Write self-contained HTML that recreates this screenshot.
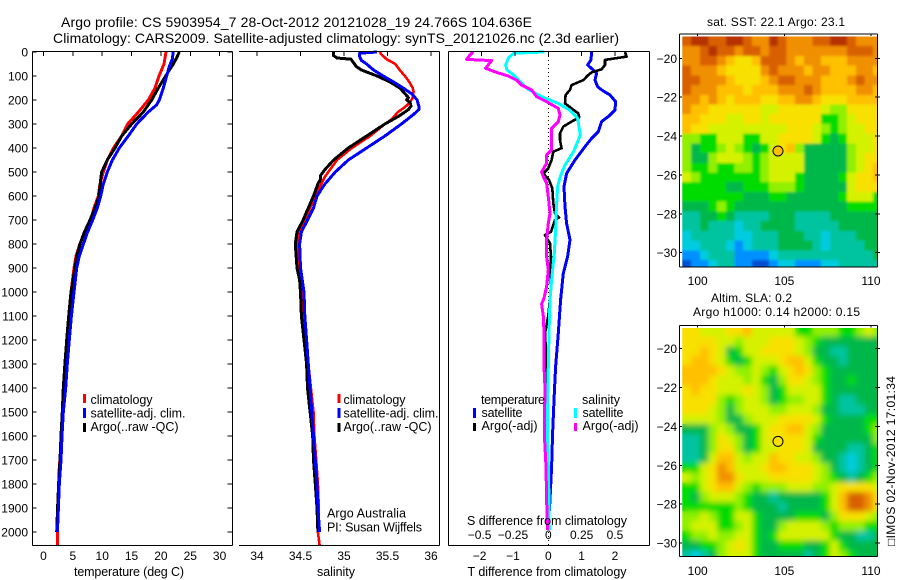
<!DOCTYPE html>
<html lang="en">
<head>
<meta charset="utf-8">
<title>Argo profile CS 5903954_7</title>
<style>
html,body{margin:0;padding:0;background:#fff;width:900px;height:580px;overflow:hidden}
svg{display:block}
text{font-family:"Liberation Sans",sans-serif;font-size:12px;fill:#000}
.ttl{font-size:14px}
.lab{font-size:12.5px}
</style>
</head>
<body>
<svg id="chart" xmlns="http://www.w3.org/2000/svg" width="900" height="580" viewBox="0 0 900 580">
  <defs>
    <filter id="blur-sst" x="-10%" y="-10%" width="120%" height="120%"><feGaussianBlur stdDeviation="1.3"/></filter>
    <filter id="blur-sla" x="-10%" y="-10%" width="120%" height="120%"><feGaussianBlur stdDeviation="3"/></filter>
  </defs>
  <rect x="0" y="0" width="900" height="580" fill="#fff"/>

  <text class="ttl" x="61" y="27" textLength="471" lengthAdjust="spacing">Argo profile: CS 5903954_7 28-Oct-2012 20121028_19 24.766S 104.636E</text>
  <text class="ttl" x="53" y="43" textLength="566" lengthAdjust="spacing">Climatology: CARS2009. Satellite-adjusted climatology: synTS_20121026.nc (2.3d earlier)</text>

  <g id="panel-temp"></g>
  <g id="panel-sal"></g>
  <g id="panel-diff"></g>
  <g id="map-sst"></g>
  <g id="map-sla"></g>

  <g>
    <rect x="83" y="394" width="3" height="9" fill="#f00"/>
    <text class="lab" x="90.5" y="404" textLength="62">climatology</text>
    <rect x="83" y="408" width="3" height="10" fill="#00f"/>
    <text class="lab" x="90.5" y="417.5" textLength="95">satellite-adj. clim.</text>
    <rect x="83" y="423" width="3" height="9" fill="#000"/>
    <text class="lab" x="90.5" y="431" textLength="88">Argo(..raw -QC)</text>
  </g>
  <g>
    <rect x="337.5" y="394" width="3" height="9" fill="#f00"/>
    <text class="lab" x="343.5" y="404" textLength="62">climatology</text>
    <rect x="337.5" y="408" width="3" height="10" fill="#00f"/>
    <text class="lab" x="343.5" y="417.5" textLength="95">satellite-adj. clim.</text>
    <rect x="337.5" y="423" width="3" height="9" fill="#000"/>
    <text class="lab" x="343.5" y="431" textLength="88">Argo(..raw -QC)</text>
    <text class="lab" x="327" y="517.5" textLength="79">Argo Australia</text>
    <text class="lab" x="327" y="531.5" textLength="95">PI: Susan Wijffels</text>
  </g>
  <g>
    <text class="lab" x="481" y="404" textLength="64">temperature</text>
    <rect x="473" y="408" width="3" height="10" fill="#00f"/>
    <text class="lab" x="481.5" y="417" textLength="41">satellite</text>
    <rect x="473" y="423" width="3" height="8" fill="#000"/>
    <text class="lab" x="481.5" y="430" textLength="56">Argo(-adj)</text>
    <text class="lab" x="582" y="404" textLength="38">salinity</text>
    <rect x="574" y="408" width="3" height="10" fill="#0ff"/>
    <text class="lab" x="582.5" y="417" textLength="41">satellite</text>
    <rect x="574" y="423" width="3" height="8" fill="#f0f"/>
    <text class="lab" x="582.5" y="430" textLength="56">Argo(-adj)</text>
  </g>

  <text class="lab" x="129" y="576" text-anchor="middle" textLength="110">temperature (deg C)</text>
  <text class="lab" x="336" y="576" text-anchor="middle" textLength="38">salinity</text>
  <text class="lab" x="547" y="525" text-anchor="middle" textLength="160">S difference from climatology</text>
  <text class="lab" x="547" y="576" text-anchor="middle" textLength="159">T difference from climatology</text>

  <text x="707" y="26" textLength="138">sat. SST: 22.1 Argo: 23.1</text>
  <text x="711" y="302" textLength="81">Altim. SLA: 0.2</text>
  <text x="693" y="316" textLength="167">Argo h1000: 0.14 h2000: 0.15</text>
  <text transform="translate(895 546) rotate(-90)" textLength="170" style="font-family:'Liberation Sans','DejaVu Sans',sans-serif">□IMOS 02-Nov-2012 17:01:34</text>
</svg>

<script>
/* ---------- axis tick data ---------- */
const depthTicks = [0,100,200,300,400,500,600,700,800,900,1000,1100,1200,1300,1400,1500,1600,1700,1800,1900,2000];
const tempTicks = [0,5,10,15,20,25,30];
const salTicks = [34,34.5,35,35.5,36];
const diffTTicks = [-2,-1,0,1,2];
const diffSTicks = [-0.5,-0.25,0,0.25,0.5];
const diffSLabels = ['-0.5','-0.25','0','0.25','0.5'];
const mapLonTicks = [100,105,110];
const mapLatTicks = [-20,-22,-24,-26,-28,-30];

/* ---------- temperature profiles ---------- */
const tempClimDepth = [0,50,100,150,200,250,300,350,400,450,500,550,600,650,700,750,800,850,900,1000,1100,1200,1300,1400,1750,2000,2055];
const tempClimValue = [20.87,20.53,19.68,19.0,17.86,16.16,14.34,13.32,11.9,10.87,10.19,9.63,9.34,8.6,8.04,7.07,6.2,5.54,5.2,4.68,4.3,4.0,3.8,3.66,2.64,2.36,2.36];
const tempSatDepth = [0,30,60,100,150,200,220,250,300,350,400,450,500,550,600,650,700,750,800,850,900,1000,1100,1200,1300,1400,1500,1600,1700,1800,1900,2000];
const tempSatValue = [22.1,21.94,21.43,20.98,20.41,19.73,19.28,17.86,15.87,14.45,12.92,11.73,10.87,10.19,9.74,9.17,8.38,7.52,6.79,6.1,5.65,5.2,4.75,4.4,4.05,3.78,3.38,3.15,2.98,2.7,2.53,2.36];
const tempArgoDepth = [0,25,50,75,100,150,200,250,300,350,400,450,500,520,600,650,700,750,800,850,900,1000,1100,1200,1300,1400,1500,1600,1700,1800,1900,2000];
const tempArgoValue = [23.14,22.68,22.12,21.43,20.81,19.56,18.43,17.0,15.02,13.32,12.18,10.87,9.91,9.8,9.45,8.77,7.92,6.96,6.22,5.65,5.37,4.68,4.3,3.95,3.65,3.38,3.2,2.98,2.81,2.58,2.4,2.25];

/* ---------- salinity profiles ---------- */
const salClimDepth = [0,10,30,50,75,100,125,150,165,190,210,230,250,280,300,350,400,450,500,520,600,700,750,800,900,1000,1100,1200,1300,1400,1500,1600,1700,1800,1900,2000,2055];
const salClimValue = [35.41,35.43,35.49,35.59,35.64,35.70,35.75,35.79,35.80,35.79,35.76,35.70,35.62,35.55,35.47,35.30,35.09,34.92,34.82,34.78,34.67,34.55,34.49,34.47,34.48,34.51,34.53,34.56,34.59,34.62,34.65,34.66,34.68,34.70,34.71,34.70,34.72];
const salSatDepth = [0,5,20,35,50,75,100,125,150,175,200,225,240,260,300,350,400,450,500,550,600,650,700,750,800,900,1000,1100,1200,1300,1400,1500,1600,1700,1800,1900,2000];
const salSatValue = [35.38,35.18,35.18,35.20,35.26,35.34,35.45,35.57,35.68,35.78,35.84,35.86,35.86,35.80,35.66,35.47,35.26,35.05,34.90,34.78,34.69,34.65,34.58,34.51,34.49,34.50,34.54,34.55,34.57,34.59,34.61,34.63,34.65,34.67,34.69,34.70,34.72];
const salArgoDepth = [0,15,25,30,45,60,75,100,115,125,150,165,190,200,210,225,240,265,300,350,400,450,490,515,530,550,600,650,700,750,800,900,950,1000,1100,1200,1300,1400,1500,1600,1700,1800,1900,2000];
const salArgoValue = [34.88,34.88,34.92,35.08,35.11,35.14,35.20,35.38,35.47,35.53,35.64,35.68,35.74,35.72,35.76,35.77,35.74,35.64,35.47,35.26,35.05,34.88,34.78,34.73,34.73,34.70,34.65,34.59,34.53,34.46,34.44,34.46,34.49,34.50,34.51,34.54,34.57,34.58,34.61,34.64,34.65,34.67,34.69,34.70];

/* ---------- difference profiles ---------- */
const diffTSatDepth = [0,33,54,75,89,117,144,158,179,207,242,269,290,332,360,394,450,506,561,644,714,783,853,922,1033,1172,1311,1450,1589,1728,1867,1992];
const diffTSatValue = [1.30,1.28,1.18,1.35,1.45,1.40,1.48,1.60,1.85,2.02,2.00,1.80,1.60,1.50,1.30,1.10,0.80,0.55,0.47,0.50,0.55,0.65,0.58,0.45,0.37,0.30,0.22,0.17,0.13,0.10,0.05,-0.01];
const diffTArgoDepth = [0,19,33,54,72,85,96,117,138,158,179,214,235,256,272,290,311,339,367,401,415,450,485,506,533,568,631,672,689,700,749,763,797,853,908,964,1026,1100,1172,1300,1400,1590,1650,1800,1992];
const diffTArgoValue = [2.30,2.35,1.70,1.70,1.60,1.30,1.20,1.05,0.70,0.65,0.52,0.50,0.70,0.90,0.93,0.70,0.45,0.35,0.35,0.40,0.15,0.10,0,-0.15,0.02,0.12,0.15,0.20,0.32,0.20,0.08,-0.10,0.05,0.08,0.05,0.08,0.05,0,-0.1,-0.05,-0.05,-0.1,-0.07,-0.05,-0.01];
const diffSSatDepth = [0,5,26,54,75,96,124,156,186,214,242,276,346,415,471,519,561,658,742,839,950,1033,1172,1311,1450,1589,1728,1867,1992];
const diffSSatValue = [-0.03,-0.26,-0.30,-0.32,-0.31,-0.26,-0.21,-0.15,-0.05,0.075,0.16,0.22,0.24,0.19,0.125,0.09,0.07,0.06,0.055,0.045,0.025,0.0125,0.005,0,-0.005,-0.0075,0,0.005,0.0075];
const diffSArgoDepth = [0,12,31,36,44,68,85,100,117,138,158,186,207,235,263,290,318,367,408,429,464,499,519,547,603,672,714,783,853,908,978,1026,1050,1100,1172,1311,1400,1589,1728,1867,1992];
const diffSArgoValue = [-0.5625,-0.5875,-0.6125,-0.425,-0.4375,-0.47,-0.3875,-0.30,-0.2375,-0.20,-0.125,-0.0875,-0.0125,0.075,0.0875,0.075,0.025,0.025,0.025,-0.0125,-0.0125,-0.05,-0.0375,-0.0125,0,0.0125,0,-0.0125,-0.0125,0,-0.0125,-0.0325,-0.05,-0.0375,-0.0325,-0.0325,-0.025,-0.03,-0.0175,-0.0125,-0.005];

/* ---------- float position ---------- */
const floatLon = [104.636];
const floatLat = [-24.766];

/* ---------- map cell levels, rows north to south, 0.5 degree cells ---------- */
const sstGrid = [
[11,12,12,11,11,12,12,11,10,10,12,11,10,10,10,11,11,12,12,11,10,10,10],
[10,10,11,12,11,11,10,11,11,10,11,11,10,10,10,10,10,10,10,11,11,11,10],
[10,10,11,11,10,9,8,8,9,11,11,11,10,9,10,10,9,9,9,10,10,10,10],
[11,10,10,10,9,8,8,8,8,10,11,10,10,10,9,10,10,9,9,9,10,10,9],
[11,11,10,10,10,9,8,8,8,9,10,11,11,10,10,10,9,9,9,10,11,10,10],
[11,10,10,10,9,9,9,8,9,9,9,10,10,10,11,10,9,9,9,9,10,10,9],
[10,10,9,10,9,8,9,9,9,8,8,9,9,10,10,9,8,8,8,9,9,9,9],
[10,9,9,8,8,8,8,8,8,7,7,8,8,8,8,8,7,6,6,8,8,8,8],
[9,9,8,8,8,7,7,8,8,7,8,8,8,8,8,8,5,5,6,7,8,8,8],
[9,8,8,7,7,7,7,7,7,7,7,7,8,8,8,7,6,5,6,7,7,8,8],
[6,6,5,5,7,7,7,5,5,7,7,8,8,8,8,7,5,4,5,7,7,7,8],
[6,4,5,5,6,7,6,5,4,5,7,8,9,6,4,4,4,4,4,6,7,7,8],
[6,4,4,6,7,7,7,6,5,6,7,7,7,7,4,4,4,4,4,6,7,8,8],
[6,5,5,6,5,5,6,6,5,6,7,7,7,7,4,4,4,4,4,6,7,8,9],
[7,6,5,5,5,5,5,5,5,6,7,7,7,5,4,4,4,4,5,7,8,8,9],
[5,5,5,5,5,4,4,5,5,5,6,6,6,5,4,4,4,4,4,7,8,8,8],
[5,5,5,5,5,5,5,4,4,4,5,5,4,4,4,4,4,4,5,7,7,7,5],
[4,4,4,5,6,5,4,4,4,4,4,4,4,4,4,4,4,4,4,5,5,5,5],
[3,3,4,4,5,4,3,3,3,3,4,4,4,3,3,3,3,4,4,4,4,4,4],
[3,3,4,3,3,3,2,3,3,4,4,4,4,3,3,3,3,3,4,4,4,4,4],
[2,3,3,3,3,3,2,2,3,3,3,4,4,4,3,3,2,3,3,3,4,4,4],
[2,2,3,3,3,2,1,2,3,3,3,4,4,4,4,3,2,3,3,3,3,4,4],
[1,1,2,3,3,3,1,1,1,1,2,3,3,3,3,3,3,3,3,3,3,3,4],
[0,1,1,2,3,3,1,1,0,0,1,2,2,1,1,1,2,2,3,3,3,3,3]
];
const slaGrid = [
[8,8,7,7,7,8,8,9,7,7,7,7,7,5,5,6,6,6,5,5,6,7,6],
[8,8,8,8,7,7,6,7,7,7,8,8,8,7,6,5,4,4,4,4,4,4,4],
[8,8,9,8,7,4,5,7,7,8,8,8,8,7,6,4,4,3,3,4,4,4,4],
[8,9,9,8,7,5,4,5,7,7,7,8,9,9,7,5,4,4,3,4,4,4,4],
[9,9,9,9,8,7,6,6,7,6,5,7,8,9,8,6,5,4,4,4,4,4,4],
[9,9,9,8,7,7,7,6,7,5,4,6,8,8,7,6,5,4,4,5,4,4,4],
[8,9,8,8,7,7,7,8,7,6,4,5,7,7,7,7,5,4,4,4,4,4,4],
[8,8,8,8,6,5,6,7,7,6,4,5,6,6,7,7,5,4,3,3,4,4,4],
[8,8,8,7,6,4,6,7,7,7,6,6,7,7,7,6,4,4,3,3,3,4,4],
[7,7,7,7,6,4,4,6,7,7,7,8,8,8,8,7,5,4,4,4,4,5,5],
[4,4,4,6,7,6,4,4,5,7,8,8,9,9,7,6,4,4,4,4,4,5,6],
[3,3,4,6,8,7,6,4,5,7,8,8,8,8,7,5,4,4,4,4,4,4,6],
[3,3,4,6,8,8,6,4,5,7,7,8,8,8,7,4,4,4,4,3,3,4,5],
[3,3,4,7,9,9,7,6,7,7,9,8,8,7,7,6,4,4,3,2,3,4,5],
[5,5,7,8,10,9,7,7,7,8,9,9,8,8,8,7,6,4,3,2,3,4,5],
[7,6,7,8,10,10,8,7,7,7,8,8,8,8,8,7,6,5,4,3,4,5,6],
[5,5,7,8,9,9,7,6,5,6,6,6,7,7,7,6,6,7,8,8,8,8,7],
[5,4,6,7,7,7,6,5,4,4,3,4,4,4,4,4,5,7,9,11,11,10,8],
[5,5,5,5,5,5,6,5,4,4,4,3,4,4,4,4,5,7,9,11,11,10,8],
[6,6,7,6,5,5,7,7,5,4,4,4,4,5,5,5,4,6,8,8,8,7,6],
[6,7,7,7,5,5,6,7,5,4,4,6,7,7,7,7,6,5,6,6,6,5,5],
[5,6,6,7,6,6,7,7,5,4,5,7,7,7,7,7,7,5,4,4,3,3,4],
[4,4,5,5,6,7,8,7,5,4,4,5,5,5,4,4,5,7,5,4,4,4,4],
[3,2,3,4,6,7,7,7,5,4,4,4,4,4,3,4,5,7,6,5,4,4,4]
];

/* ---------- scales and style constants ---------- */
const NS = 'http://www.w3.org/2000/svg';
const TOP = 52, BOTTOM = 545;
const yDepth = d => TOP + 0.24 * d;
const xTemp = t => 43.5 + 5.87 * t;
const xSal = s => 257 + 87 * (s - 34);
const xDiffT = t => 548.3 + 33.33 * t;
const xDiffS = s => xDiffT(4 * s);
const mapLonX = lon => 697.7 + 17.33 * (lon - 100);
const mapLatY = (lat, originY) => originY + 19.44 * (-20 - lat);
const minusText = s => String(s).replace('-', '\u2212');
const palette = ['#0050d0','#0090ff','#00cce0','#00c4a0','#00b848','#00dc00','#90f000','#d4f200','#f8e000','#ffc000','#f09000','#d86000','#b83000'];

function mk(tag, parent) {
  const el = document.createElementNS(NS, tag);
  parent.appendChild(el);
  return el;
}
function seg(parent, x1, y1, x2, y2) {
  const l = mk('line', parent);
  l.setAttribute('x1', x1);
  l.setAttribute('y1', y1);
  l.setAttribute('x2', x2);
  l.setAttribute('y2', y2);
  l.setAttribute('stroke', '#000');
  l.setAttribute('stroke-width', '1');
  l.setAttribute('shape-rendering', 'crispEdges');
  return l;
}
function label(parent, x, y, str, anchor) {
  const t = mk('text', parent);
  t.setAttribute('x', x);
  t.setAttribute('y', y);
  t.setAttribute('text-anchor', anchor);
  t.textContent = str;
  return t;
}
function profile(parent, depths, values, xScale, color, width, name) {
  const p = mk('polyline', parent);
  const pts = depths.map((d, i) => xScale(values[i]).toFixed(1) + ',' + yDepth(d).toFixed(1));
  p.setAttribute('points', pts.join(' '));
  p.setAttribute('fill', 'none');
  p.setAttribute('stroke', color);
  p.setAttribute('stroke-width', width);
  p.setAttribute('stroke-linejoin', 'round');
  p.setAttribute('shape-rendering', 'crispEdges');
  
  
}
function xTicksTop(parent, ticks, scale) {
  ticks.forEach(v => {
    const tk = seg(parent, scale(v), TOP, scale(v), TOP + 4);
    
    
  });
}
function xLabels(parent, ticks, scale, y, texts) {
  ticks.forEach((v, i) => {
    const str = minusText(texts ? texts[i] : v);
    const t = label(parent, scale(v) - (v < 0 ? 2 : 0), y, str, 'middle');
    
    
  });
}

/* ---------- temperature panel ---------- */
const gT = document.getElementById('panel-temp');
profile(gT, tempClimDepth, tempClimValue, xTemp, '#f00', 3, 'temperature-climatology-line');
profile(gT, tempArgoDepth, tempArgoValue, xTemp, '#000', 3, 'temperature-argo-line');
profile(gT, tempSatDepth, tempSatValue, xTemp, '#00f', 3, 'temperature-satellite-line');
[[32.5,TOP-0.5,232.5,TOP-0.5],[32.5,BOTTOM+0.5,232.5,BOTTOM+0.5],[32.5,TOP-0.5,32.5,BOTTOM+0.5],[232.5,TOP-0.5,232.5,BOTTOM+0.5]].forEach(c => {
  const s = seg(gT, c[0], c[1], c[2], c[3]);
  
  
});
xTicksTop(gT, tempTicks, xTemp);
xLabels(gT, tempTicks, xTemp, 560, null);
depthTicks.forEach(d => {
  const l = seg(gT, 32.5, yDepth(d), 36.5, yDepth(d));
  
  
  const r = seg(gT, 227.5, yDepth(d), 232.5, yDepth(d));
  
  
  const t = label(gT, 28, yDepth(d) + 4.5, String(d), 'end');
  
  
});

/* ---------- salinity panel ---------- */
const gS = document.getElementById('panel-sal');
profile(gS, salClimDepth, salClimValue, xSal, '#f00', 2.6, 'salinity-climatology-line');
profile(gS, salArgoDepth, salArgoValue, xSal, '#000', 3, 'salinity-argo-line');
profile(gS, salSatDepth, salSatValue, xSal, '#00f', 3, 'salinity-satellite-line');
[[239,TOP-0.5,439.5,TOP-0.5],[239,BOTTOM+0.5,439.5,BOTTOM+0.5],[439.5,TOP-0.5,439.5,BOTTOM+0.5]].forEach(c => {
  const s = seg(gS, c[0], c[1], c[2], c[3]);
  
  
});
xTicksTop(gS, salTicks, xSal);
xLabels(gS, salTicks, xSal, 560, null);

/* ---------- difference panel ---------- */
const gD = document.getElementById('panel-diff');
const zeroLine = seg(gD, xDiffT(0), TOP, xDiffT(0), BOTTOM);
zeroLine.setAttribute('stroke-dasharray', '1 3');


profile(gD, diffTSatDepth, diffTSatValue, xDiffT, '#00f', 3, 'temperature-satellite-difference-line');
profile(gD, diffTArgoDepth, diffTArgoValue, xDiffT, '#000', 2.6, 'temperature-argo-difference-line');
profile(gD, diffSSatDepth, diffSSatValue, xDiffS, '#0ff', 3, 'salinity-satellite-difference-line');
profile(gD, diffSArgoDepth, diffSArgoValue, xDiffS, '#f0f', 3, 'salinity-argo-difference-line');
[[448.5,TOP-0.5,649.5,TOP-0.5],[448.5,BOTTOM+0.5,649.5,BOTTOM+0.5],[448.5,TOP-0.5,448.5,BOTTOM+0.5],[649.5,TOP-0.5,649.5,BOTTOM+0.5]].forEach(c => {
  const s = seg(gD, c[0], c[1], c[2], c[3]);
  
  
});
xTicksTop(gD, diffTTicks, xDiffT);
xLabels(gD, diffTTicks, xDiffT, 560, null);
xLabels(gD, diffSTicks, xDiffS, 539, diffSLabels);

/* ---------- maps ---------- */
function drawMap(groupId, grid, originY, boxTop, boxBottom, labelY, clipId, circleColor, blurId) {
  const g = document.getElementById(groupId);
  const defs = mk('defs', g);
  const clip = mk('clipPath', defs);
  clip.setAttribute('id', clipId);
  const cr = mk('rect', clip);
  cr.setAttribute('x', 682);
  cr.setAttribute('y', boxTop + 2.5);
  cr.setAttribute('width', 195);
  cr.setAttribute('height', boxBottom - boxTop - 2.5);
  const holder = mk('g', g);
  holder.setAttribute('clip-path', 'url(#' + clipId + ')');
  
  
  const cells = mk('g', holder);
  cells.setAttribute('id', clipId + '-cells');
  
  
  grid.forEach((row, r) => {
    row.forEach((v, c) => {
      const lonW = 99.125 + 0.5 * c;
      const latN = -18.875 - 0.5 * r;
      const cell = mk('rect', cells);
      cell.setAttribute('x', mapLonX(lonW).toFixed(2));
      cell.setAttribute('y', mapLatY(latN, originY).toFixed(2));
      cell.setAttribute('width', 8.9);
      cell.setAttribute('height', 9.95);
      cell.setAttribute('fill', palette[Math.max(0, Math.min(palette.length - 1, Math.round(v)))]);
      cell.setAttribute('shape-rendering', 'crispEdges');
      
      
    });
  });
  const soft = mk('use', holder);
  soft.setAttribute('href', '#' + clipId + '-cells');
  soft.setAttribute('filter', 'url(#' + blurId + ')');
  
  
  [[679.5,boxTop,877.5,boxTop],[679.5,boxBottom,877.5,boxBottom],[679.5,boxTop,679.5,boxBottom],[877.5,boxTop,877.5,boxBottom]].forEach(b => {
    const s = seg(g, b[0], b[1], b[2], b[3]);
    
    
  });
  mapLonTicks.forEach(lon => {
    const tk = seg(g, mapLonX(lon), boxTop, mapLonX(lon), boxTop + 2);
    
    
    const t = label(g, mapLonX(lon), labelY, String(lon), 'middle');
    
    
  });
  mapLatTicks.forEach(lat => {
    const y = mapLatY(lat, originY);
    const a = seg(g, 679.5, y, 682, y);
    
    
    const b = seg(g, 875, y, 880, y);
    
    
    const t = label(g, 677, y + 4.5, minusText(lat), 'end');
    
    
  });
  const dot = mk('circle', g);
  dot.setAttribute('cx', mapLonX(floatLon[0]).toFixed(1));
  dot.setAttribute('cy', mapLatY(floatLat[0], originY).toFixed(1));
  dot.setAttribute('r', 5);
  dot.setAttribute('fill', circleColor);
  dot.setAttribute('stroke', '#000');
  dot.setAttribute('stroke-width', 1);
  
  
}
drawMap('map-sst', sstGrid, 58.3, 34, 267, 285, 'clip-sst', '#ffc000', 'blur-sst');
drawMap('map-sla', slaGrid, 348.7, 325.5, 556.5, 575, 'clip-sla', '#f8e000', 'blur-sla');
</script>
</body>
</html>
